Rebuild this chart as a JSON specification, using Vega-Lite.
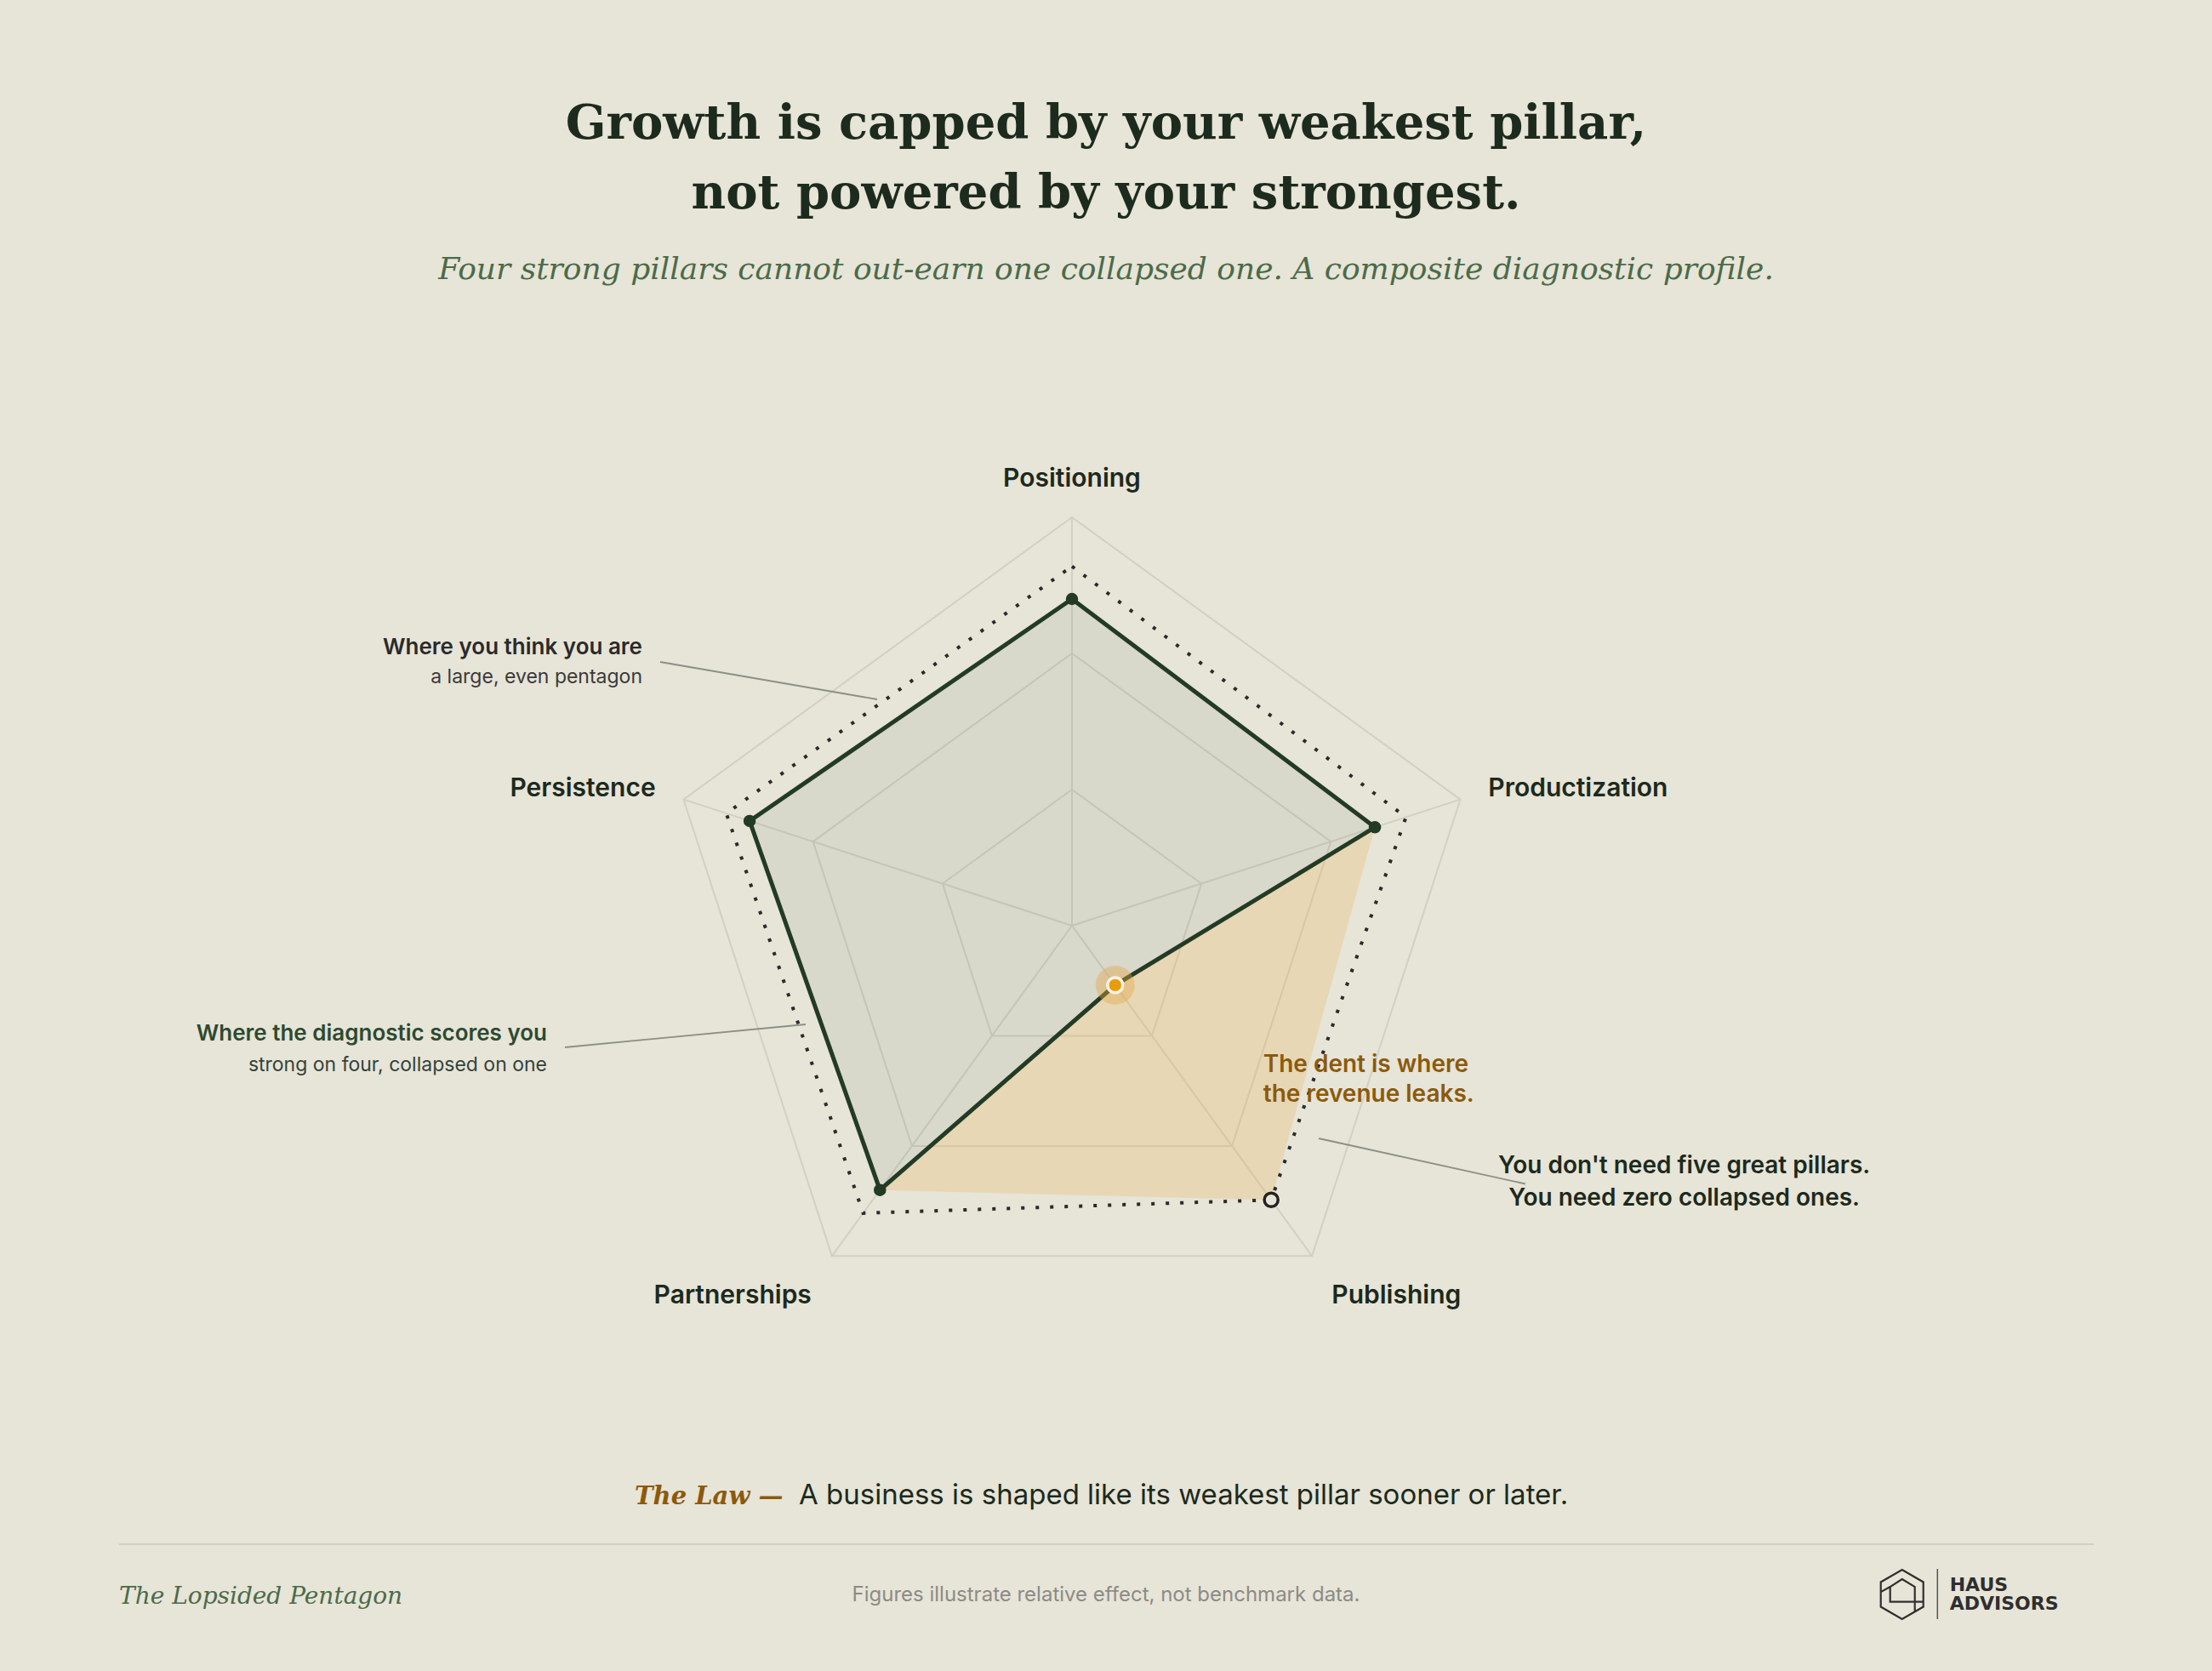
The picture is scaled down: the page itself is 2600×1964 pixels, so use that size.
{
  "$schema": "https://vega.github.io/schema/vega-lite/v6.json",
  "width": 2600,
  "height": 1964,
  "autosize": {"type": "fit", "contains": "padding"},
  "padding": 0,
  "background": "#e7e4d8",
  "config": {"view": {"stroke": null}, "axis": {"disable": true}},
  "datasets": {
    "pillars": [
      {"pillar": "Positioning", "idx": 0, "actual": 0.80, "perceived": 0.88},
      {"pillar": "Productization", "idx": 1, "actual": 0.78, "perceived": 0.86},
      {"pillar": "Publishing", "idx": 2, "actual": 0.18, "perceived": 0.83},
      {"pillar": "Partnerships", "idx": 3, "actual": 0.80, "perceived": 0.87},
      {"pillar": "Persistence", "idx": 4, "actual": 0.83, "perceived": 0.89}
    ],
    "grid": [
      {"level": 0, "idx": 0}, {"level": 0, "idx": 1}, {"level": 0, "idx": 2}, {"level": 0, "idx": 3}, {"level": 0, "idx": 4},
      {"level": 0.3333, "idx": 0}, {"level": 0.3333, "idx": 1}, {"level": 0.3333, "idx": 2}, {"level": 0.3333, "idx": 3}, {"level": 0.3333, "idx": 4},
      {"level": 0.6667, "idx": 0}, {"level": 0.6667, "idx": 1}, {"level": 0.6667, "idx": 2}, {"level": 0.6667, "idx": 3}, {"level": 0.6667, "idx": 4},
      {"level": 1, "idx": 0}, {"level": 1, "idx": 1}, {"level": 1, "idx": 2}, {"level": 1, "idx": 3}, {"level": 1, "idx": 4}
    ],
    "dent": [
      {"pillar": "Productization", "idx": 1, "k": 0, "score": 0.78},
      {"pillar": "Publishing", "idx": 2, "k": 1, "score": 0.83},
      {"pillar": "Partnerships", "idx": 3, "k": 2, "score": 0.80},
      {"pillar": "Publishing", "idx": 2, "k": 3, "score": 0.18}
    ],
    "blank": [{}]
  },
  "data": {"name": "blank"},
  "layer": [
    {
      "data": {"name": "grid"},
      "transform": [
        {"calculate": "datum.idx * 2 * PI / 5", "as": "a"},
        {"calculate": "datum.level * sin(datum.a)", "as": "gx"},
        {"calculate": "datum.level * cos(datum.a)", "as": "gy"}
      ],
      "layer": [
        {
          "transform": [{"filter": "datum.level > 0"}],
          "mark": {"type": "line", "interpolate": "linear-closed", "stroke": "#d2d0c3", "strokeWidth": 2},
          "encoding": {
            "x": {"field": "gx", "type": "quantitative", "axis": null, "scale": {"domain": [-2.625, 2.791667], "nice": false, "zero": false}},
            "y": {"field": "gy", "type": "quantitative", "axis": null, "scale": {"domain": [-1.825, 2.266667], "nice": false, "zero": false}},
            "detail": {"field": "level", "type": "nominal"},
            "order": {"field": "idx", "type": "quantitative"}
          }
        },
        {
          "mark": {"type": "line", "stroke": "#d2d0c3", "strokeWidth": 2},
          "encoding": {
            "x": {"field": "gx", "type": "quantitative"},
            "y": {"field": "gy", "type": "quantitative"},
            "detail": {"field": "idx", "type": "nominal"},
            "order": {"field": "level", "type": "quantitative"}
          }
        }
      ]
    },
    {
      "data": {"name": "dent"},
      "transform": [
        {"calculate": "datum.idx * 2 * PI / 5", "as": "a"},
        {"calculate": "datum.score * sin(datum.a)", "as": "dx"},
        {"calculate": "datum.score * cos(datum.a)", "as": "dy"}
      ],
      "mark": {"type": "line", "interpolate": "linear-closed", "fill": "#e8a93a", "fillOpacity": 0.22, "strokeOpacity": 0, "strokeWidth": 0},
      "encoding": {
        "x": {"field": "dx", "type": "quantitative"},
        "y": {"field": "dy", "type": "quantitative"},
        "order": {"field": "k", "type": "quantitative"}
      }
    },
    {
      "data": {"name": "pillars"},
      "transform": [
        {"calculate": "datum.idx * 2 * PI / 5", "as": "a"},
        {"calculate": "datum.actual * sin(datum.a)", "as": "ax"},
        {"calculate": "datum.actual * cos(datum.a)", "as": "ay"},
        {"calculate": "datum.perceived * sin(datum.a)", "as": "px"},
        {"calculate": "datum.perceived * cos(datum.a)", "as": "py"}
      ],
      "layer": [
        {
          "mark": {"type": "line", "interpolate": "linear-closed", "fill": "#2d4a2f", "fillOpacity": 0.08, "stroke": "#233b25", "strokeWidth": 5, "strokeJoin": "miter"},
          "encoding": {
            "x": {"field": "ax", "type": "quantitative"},
            "y": {"field": "ay", "type": "quantitative"},
            "order": {"field": "idx", "type": "quantitative"}
          }
        },
        {
          "mark": {"type": "line", "interpolate": "linear-closed", "stroke": "#2a2a2a", "strokeWidth": 4, "strokeDash": [4, 13]},
          "encoding": {
            "x": {"field": "px", "type": "quantitative"},
            "y": {"field": "py", "type": "quantitative"},
            "order": {"field": "idx", "type": "quantitative"}
          }
        },
        {
          "transform": [{"filter": "datum.idx != 2"}],
          "mark": {"type": "point", "filled": true, "color": "#233b25", "size": 210, "opacity": 1},
          "encoding": {
            "x": {"field": "ax", "type": "quantitative"},
            "y": {"field": "ay", "type": "quantitative"}
          }
        },
        {
          "transform": [{"filter": "datum.idx == 2"}],
          "mark": {"type": "point", "filled": true, "color": "#e6a640", "size": 2100, "opacity": 0.4},
          "encoding": {
            "x": {"field": "ax", "type": "quantitative"},
            "y": {"field": "ay", "type": "quantitative"}
          }
        },
        {
          "transform": [{"filter": "datum.idx == 2"}],
          "mark": {"type": "point", "shape": "circle", "filled": true, "fill": "#e89c0c", "stroke": "#f6f2e6", "strokeWidth": 3.5, "size": 320, "opacity": 1},
          "encoding": {
            "x": {"field": "ax", "type": "quantitative"},
            "y": {"field": "ay", "type": "quantitative"}
          }
        },
        {
          "transform": [{"filter": "datum.idx == 2"}],
          "mark": {"type": "point", "shape": "circle", "filled": true, "fill": "#e7e4d8", "stroke": "#222222", "strokeWidth": 3.5, "size": 260, "opacity": 1},
          "encoding": {
            "x": {"field": "px", "type": "quantitative"},
            "y": {"field": "py", "type": "quantitative"}
          }
        }
      ]
    },
    {
      "mark": {"type": "rule", "stroke": "#8a9086", "strokeWidth": 1.8},
      "encoding": {
        "x": {"datum": -1.00833, "type": "quantitative"}, "y": {"datum": 0.64583, "type": "quantitative"},
        "x2": {"datum": -0.47708}, "y2": {"datum": 0.55417}
      }
    },
    {
      "mark": {"type": "rule", "stroke": "#8a9086", "strokeWidth": 1.8},
      "encoding": {
        "x": {"datum": -1.24167, "type": "quantitative"}, "y": {"datum": -0.29792, "type": "quantitative"},
        "x2": {"datum": -0.65208}, "y2": {"datum": -0.24167}
      }
    },
    {
      "mark": {"type": "rule", "stroke": "#8a9086", "strokeWidth": 1.8},
      "encoding": {
        "x": {"datum": 0.60417, "type": "quantitative"}, "y": {"datum": -0.52083, "type": "quantitative"},
        "x2": {"datum": 1.11042}, "y2": {"datum": -0.63229}
      }
    },
    {
      "mark": {"type": "rule", "stroke": "#d2d0c3", "strokeWidth": 2},
      "encoding": {
        "x": {"datum": -2.33333, "type": "quantitative"}, "y": {"datum": -1.51458, "type": "quantitative"},
        "x2": {"datum": 2.50208}, "y2": {"datum": -1.51458}
      }
    },
    {
      "mark": {"type": "rule", "stroke": "#555555", "strokeWidth": 1.5},
      "encoding": {
        "x": {"datum": 2.11938, "type": "quantitative"}, "y": {"datum": -1.575, "type": "quantitative"},
        "x2": {"datum": 2.11938}, "y2": {"datum": -1.69792}
      }
    },
    {
      "mark": {"type": "point", "filled": false, "stroke": "#2f2f2f", "strokeWidth": 2.2, "size": 3364, "opacity": 1,
        "shape": "M0,-1L0.862,-0.5L0.862,0.5L0,1L-0.862,0.5L-0.862,-0.5Z M0,-0.62L0.517,-0.31L0.517,0.3L-0.483,0.3L-0.483,-0.31Z M0.517,0.3L0.862,0.3 M0.517,0.3L0.517,0.66 M-0.483,-0.31L-0.862,-0.1"},
      "encoding": {
        "x": {"datum": 2.03271, "type": "quantitative"}, "y": {"datum": -1.6375, "type": "quantitative"}
      }
    },
    {
      "mark": {"type": "text", "text": ["Growth is capped by your weakest pillar,", "not powered by your strongest."], "font": "DejaVu Serif", "fontWeight": "bold", "fontSize": 56, "lineHeight": 82, "color": "#1c2b1d", "align": "center", "baseline": "alphabetic"},
      "encoding": {"x": {"datum": 0.08333, "type": "quantitative"}, "y": {"datum": 1.92708, "type": "quantitative"}}
    },
    {
      "mark": {"type": "text", "text": "Four strong pillars cannot out-earn one collapsed one. A composite diagnostic profile.", "font": "DejaVu Serif", "fontStyle": "italic", "fontSize": 36, "color": "#4b6b48", "align": "center", "baseline": "alphabetic"},
      "encoding": {"x": {"datum": 0.08333, "type": "quantitative"}, "y": {"datum": 1.58333, "type": "quantitative"}}
    },
    {
      "mark": {"type": "text", "text": "Positioning", "font": "Inter", "fontWeight": 600, "fontSize": 30, "color": "#1c2a1c", "align": "center", "baseline": "alphabetic"},
      "encoding": {"x": {"datum": 0, "type": "quantitative"}, "y": {"datum": 1.075, "type": "quantitative"}}
    },
    {
      "mark": {"type": "text", "text": "Productization", "font": "Inter", "fontWeight": 600, "fontSize": 30, "color": "#1c2a1c", "align": "left", "baseline": "alphabetic"},
      "encoding": {"x": {"datum": 1.0194, "type": "quantitative"}, "y": {"datum": 0.3173, "type": "quantitative"}}
    },
    {
      "mark": {"type": "text", "text": "Persistence", "font": "Inter", "fontWeight": 600, "fontSize": 30, "color": "#1c2a1c", "align": "right", "baseline": "alphabetic"},
      "encoding": {"x": {"datum": -1.0194, "type": "quantitative"}, "y": {"datum": 0.3173, "type": "quantitative"}}
    },
    {
      "mark": {"type": "text", "text": "Partnerships", "font": "Inter", "fontWeight": 600, "fontSize": 30, "color": "#1c2a1c", "align": "center", "baseline": "alphabetic"},
      "encoding": {"x": {"datum": -0.8308, "type": "quantitative"}, "y": {"datum": -0.9243, "type": "quantitative"}}
    },
    {
      "mark": {"type": "text", "text": "Publishing", "font": "Inter", "fontWeight": 600, "fontSize": 30, "color": "#1c2a1c", "align": "center", "baseline": "alphabetic"},
      "encoding": {"x": {"datum": 0.7944, "type": "quantitative"}, "y": {"datum": -0.9243, "type": "quantitative"}}
    },
    {
      "mark": {"type": "text", "text": "Where you think you are", "font": "Inter", "fontWeight": 600, "fontSize": 26, "color": "#2a2a2a", "align": "right", "baseline": "alphabetic"},
      "encoding": {"x": {"datum": -1.05208, "type": "quantitative"}, "y": {"datum": 0.66458, "type": "quantitative"}}
    },
    {
      "mark": {"type": "text", "text": "a large, even pentagon", "font": "Inter", "fontSize": 23, "color": "#3a3a3a", "align": "right", "baseline": "alphabetic"},
      "encoding": {"x": {"datum": -1.05208, "type": "quantitative"}, "y": {"datum": 0.59458, "type": "quantitative"}}
    },
    {
      "mark": {"type": "text", "text": "Where the diagnostic scores you", "font": "Inter", "fontWeight": 600, "fontSize": 26, "color": "#2d4a2f", "align": "right", "baseline": "alphabetic"},
      "encoding": {"x": {"datum": -1.28542, "type": "quantitative"}, "y": {"datum": -0.28229, "type": "quantitative"}}
    },
    {
      "mark": {"type": "text", "text": "strong on four, collapsed on one", "font": "Inter", "fontSize": 23, "color": "#34433a", "align": "right", "baseline": "alphabetic"},
      "encoding": {"x": {"datum": -1.28542, "type": "quantitative"}, "y": {"datum": -0.35563, "type": "quantitative"}}
    },
    {
      "mark": {"type": "text", "text": ["The dent is where", "the revenue leaks."], "font": "Inter", "fontWeight": 600, "fontSize": 28, "lineHeight": 35, "color": "#8b5a0b", "align": "left", "baseline": "alphabetic"},
      "encoding": {"x": {"datum": 0.468125, "type": "quantitative"}, "y": {"datum": -0.35792, "type": "quantitative"}}
    },
    {
      "mark": {"type": "text", "text": ["You don't need five great pillars.", "You need zero collapsed ones."], "font": "Inter", "fontWeight": 600, "fontSize": 28, "lineHeight": 38, "color": "#1c2a1c", "align": "center", "baseline": "alphabetic"},
      "encoding": {"x": {"datum": 1.49917, "type": "quantitative"}, "y": {"datum": -0.60625, "type": "quantitative"}}
    },
    {
      "mark": {"type": "text", "text": "The Law —", "font": "DejaVu Serif", "fontStyle": "italic", "fontWeight": "bold", "fontSize": 29, "color": "#8b5a0b", "align": "left", "baseline": "alphabetic"},
      "encoding": {"x": {"datum": -1.07083, "type": "quantitative"}, "y": {"datum": -1.41667, "type": "quantitative"}}
    },
    {
      "mark": {"type": "text", "text": "A business is shaped like its weakest pillar sooner or later.", "font": "Inter", "fontSize": 33, "color": "#1c2a1c", "align": "left", "baseline": "alphabetic"},
      "encoding": {"x": {"datum": -0.66875, "type": "quantitative"}, "y": {"datum": -1.41667, "type": "quantitative"}}
    },
    {
      "mark": {"type": "text", "text": "The Lopsided Pentagon", "font": "DejaVu Serif", "fontStyle": "italic", "fontSize": 28, "color": "#4b6b48", "align": "left", "baseline": "alphabetic"},
      "encoding": {"x": {"datum": -2.33333, "type": "quantitative"}, "y": {"datum": -1.66042, "type": "quantitative"}}
    },
    {
      "mark": {"type": "text", "text": "Figures illustrate relative effect, not benchmark data.", "font": "Inter", "fontSize": 24, "color": "#8c8b85", "align": "center", "baseline": "alphabetic"},
      "encoding": {"x": {"datum": 0.08333, "type": "quantitative"}, "y": {"datum": -1.65417, "type": "quantitative"}}
    },
    {
      "mark": {"type": "text", "text": "HAUS", "font": "DejaVu Sans", "fontWeight": "bold", "fontSize": 22, "color": "#2f2f2f", "align": "left", "baseline": "alphabetic"},
      "encoding": {"x": {"datum": 2.14938, "type": "quantitative"}, "y": {"datum": -1.62979, "type": "quantitative"}}
    },
    {
      "mark": {"type": "text", "text": "ADVISORS", "font": "DejaVu Sans", "fontWeight": "bold", "fontSize": 22, "color": "#2f2f2f", "align": "left", "baseline": "alphabetic"},
      "encoding": {"x": {"datum": 2.14938, "type": "quantitative"}, "y": {"datum": -1.675, "type": "quantitative"}}
    }
  ]
}
